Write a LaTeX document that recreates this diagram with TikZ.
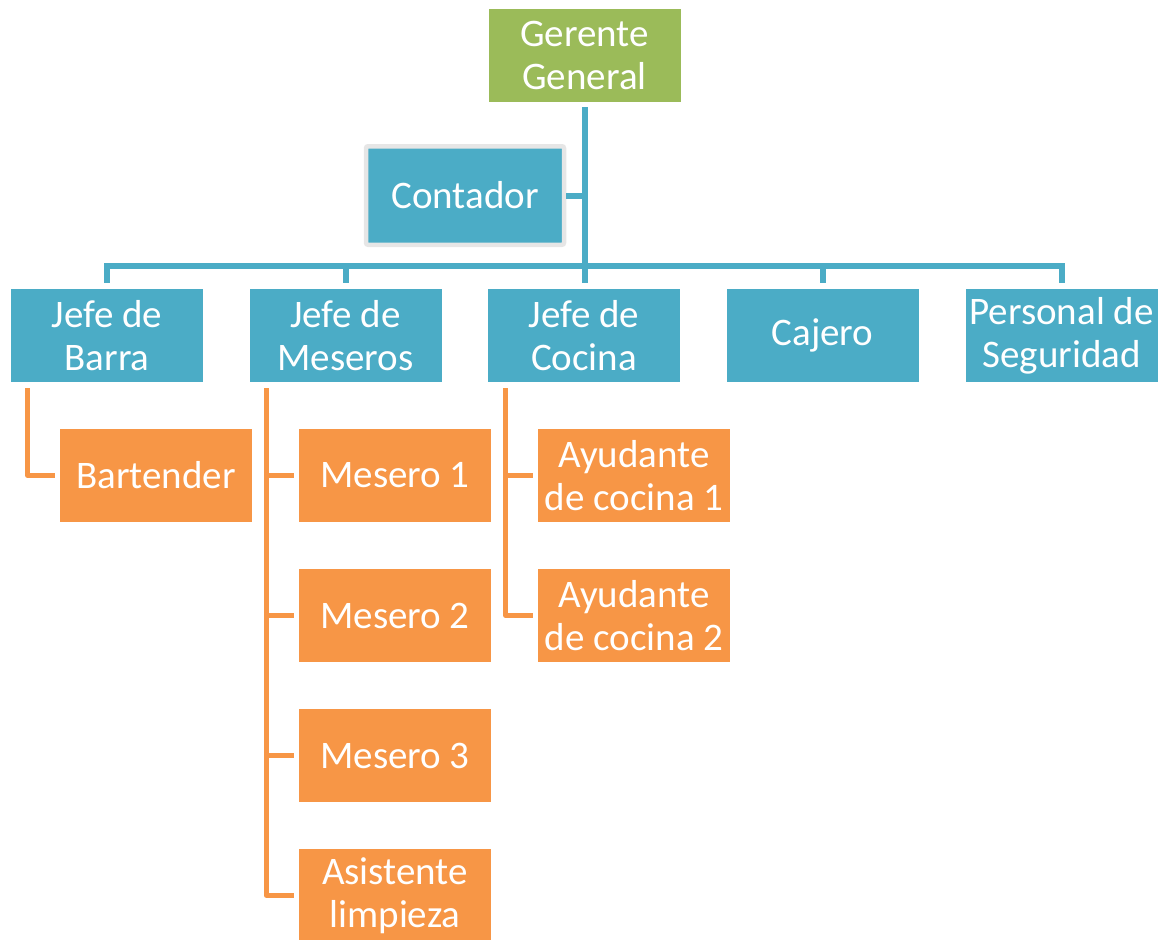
\documentclass[tikz,border=0pt]{standalone}
\usepackage{fontspec}
\setmainfont{Carlito}
\definecolor{cgreen}{HTML}{9BBB59}
\definecolor{cblue}{HTML}{4BACC6}
\definecolor{corange}{HTML}{F79646}
\definecolor{cframe}{HTML}{E6E6E6}
\begin{document}
\begin{tikzpicture}[x=1pt,y=-1pt,
  box/.style={rectangle,minimum width=192pt,minimum height=93pt,inner sep=0pt,
    align=center,text=white,font=\fontsize{39}{43}\selectfont},
  gbox/.style={box,fill=cgreen},
  bbox/.style={box,fill=cblue},
  obox/.style={box,fill=corange},
  bline/.style={draw=cblue,line width=6pt},
  oline/.style={draw=corange,line width=5pt,line join=round},
]
\useasboundingbox (0,0) rectangle (1174,939);
\node[gbox] (gg) at (584.5,55.5) {Gerente\\General};
\node[bbox,draw=cframe,line width=4.5pt,rounded corners=2pt,minimum width=198pt,minimum height=98.5pt] (ct) at (465,195.5) {Contador};
\node[bbox] (jb) at (107,335.5) {Jefe de\\Barra};
\node[bbox] (jm) at (345.5,335.5) {Jefe de\\Meseros};
\node[bbox] (jc) at (584,335.5) {Jefe de\\Cocina};
\node[bbox] (ca) at (822.5,335.5) {Cajero};
\node[bbox] (ps) at (1061.5,335.5) {Personal de\\Seguridad};
\node[obox] (bt) at (156,475.5) {Bartender};
\node[obox] (m1) at (395,475.5) {Mesero 1};
\node[obox] (m2) at (395,615.5) {Mesero 2};
\node[obox] (m3) at (395,755.5) {Mesero 3};
\node[obox] (m4) at (395,895.5) {Asistente\\limpieza};
\node[obox] (a1) at (634,475.5) {Ayudante\\de cocina 1};
\node[obox] (a2) at (634,615.5) {Ayudante\\de cocina 2};
% blue tree
\draw[bline] ([yshift=-5pt]gg.south) -- ([yshift=6pt]gg.south |- jc.north);
\draw[bline] (ct.east) -- (ct.east -| gg.south);
\draw[bline] ([yshift=6pt]jb.north) -- ([yshift=23pt]jb.north) -- ([yshift=23pt]ps.north) -- ([yshift=6pt]ps.north);
\foreach \n in {jm,ca}
  \draw[bline] ([yshift=23pt]\n.north) -- ([yshift=6pt]\n.north);
% orange trees
\coordinate (btop) at ([xshift=17pt,yshift=-6pt]jb.south west);
\coordinate (mtop) at ([xshift=17pt,yshift=-6pt]jm.south west);
\coordinate (ctop) at ([xshift=18pt,yshift=-6pt]jc.south west);
\draw[oline,shorten >=5pt] (btop) |- (bt.west);
\draw[oline,shorten >=5pt] (mtop) |- (m4.west);
\foreach \n in {m1,m2,m3}
  \draw[oline,shorten >=5pt] (mtop |- \n.west) -- (\n.west);
\draw[oline,shorten >=5pt] (ctop) |- (a2.west);
\draw[oline,shorten >=5pt] (ctop |- a1.west) -- (a1.west);
\end{tikzpicture}
\end{document}
